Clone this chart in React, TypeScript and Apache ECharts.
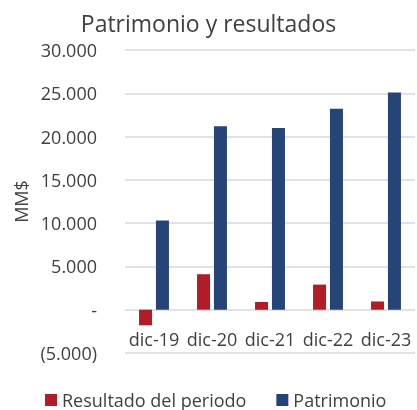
import React, { useEffect, useRef } from "react";
import * as echarts from "echarts";

const categories = ["dic-19", "dic-20", "dic-21", "dic-22", "dic-23"];
const resultado = [-1800, 4100, 900, 2900, 950];
const patrimonio = [10300, 21200, 21000, 23200, 25100];
const seriesNames = ["Resultado del periodo", "Patrimonio"];

const FONT = "'Open Sans', 'Noto Sans', sans-serif";
const TEXT = "#404040";

function fmt(v: number): string {
  if (v === 0) return "-";
  const s = Math.abs(v).toString().replace(/\B(?=(\d{3})+(?!\d))/g, ".");
  return v < 0 ? "(" + s + ")" : s;
}

export default function App() {
  const ref = useRef<HTMLDivElement>(null);
  useEffect(() => {
    if (!ref.current) return;
    const chart = echarts.init(ref.current, null, { renderer: "svg" });
    chart.setOption({
      animation: false,
      title: {
        text: "Patrimonio y resultados",
        left: "center",
        top: 6,
        textStyle: { fontFamily: FONT, fontSize: 23, fontWeight: "normal", color: TEXT },
      },
      legend: {
        bottom: -4,
        left: 40,
        itemWidth: 12,
        itemHeight: 12,
        itemGap: 30,
        icon: "rect",
        textStyle: { fontFamily: FONT, fontSize: 18, color: TEXT },
        data: seriesNames,
      },
      grid: { left: 125, right: 2, top: 50, bottom: 57, containLabel: false },
      xAxis: {
        type: "category",
        data: categories,
        offset: -43.3,
        axisLine: { show: false },
        axisTick: { show: false },
        axisLabel: { fontFamily: FONT, fontSize: 18, color: TEXT, margin: 20, interval: 0 },
      },
      yAxis: {
        type: "value",
        min: -5000,
        max: 30000,
        interval: 5000,
        name: "MM$",
        nameLocation: "middle",
        nameGap: 92,
        nameTextStyle: { fontFamily: FONT, fontSize: 18, color: TEXT },
        axisLine: { show: false },
        axisTick: { show: false },
        axisLabel: { fontFamily: FONT, fontSize: 18, color: TEXT, margin: 28, formatter: fmt },
        splitLine: { lineStyle: { color: "#d9d9d9", width: 1.5 } },
      },
      series: [
        {
          name: seriesNames[0],
          type: "bar",
          data: resultado,
          barWidth: 13,
          barGap: "30%",
          itemStyle: { color: "#B01C28" },
        },
        {
          name: seriesNames[1],
          type: "bar",
          data: patrimonio,
          barWidth: 13,
          itemStyle: { color: "#264478" },
        },
      ],
    });
    return () => chart.dispose();
  }, []);
  return (
    <div
      ref={ref}
      style={{ position: "fixed", left: 0, top: 0, width: 417, height: 410 }}
    />
  );
}
